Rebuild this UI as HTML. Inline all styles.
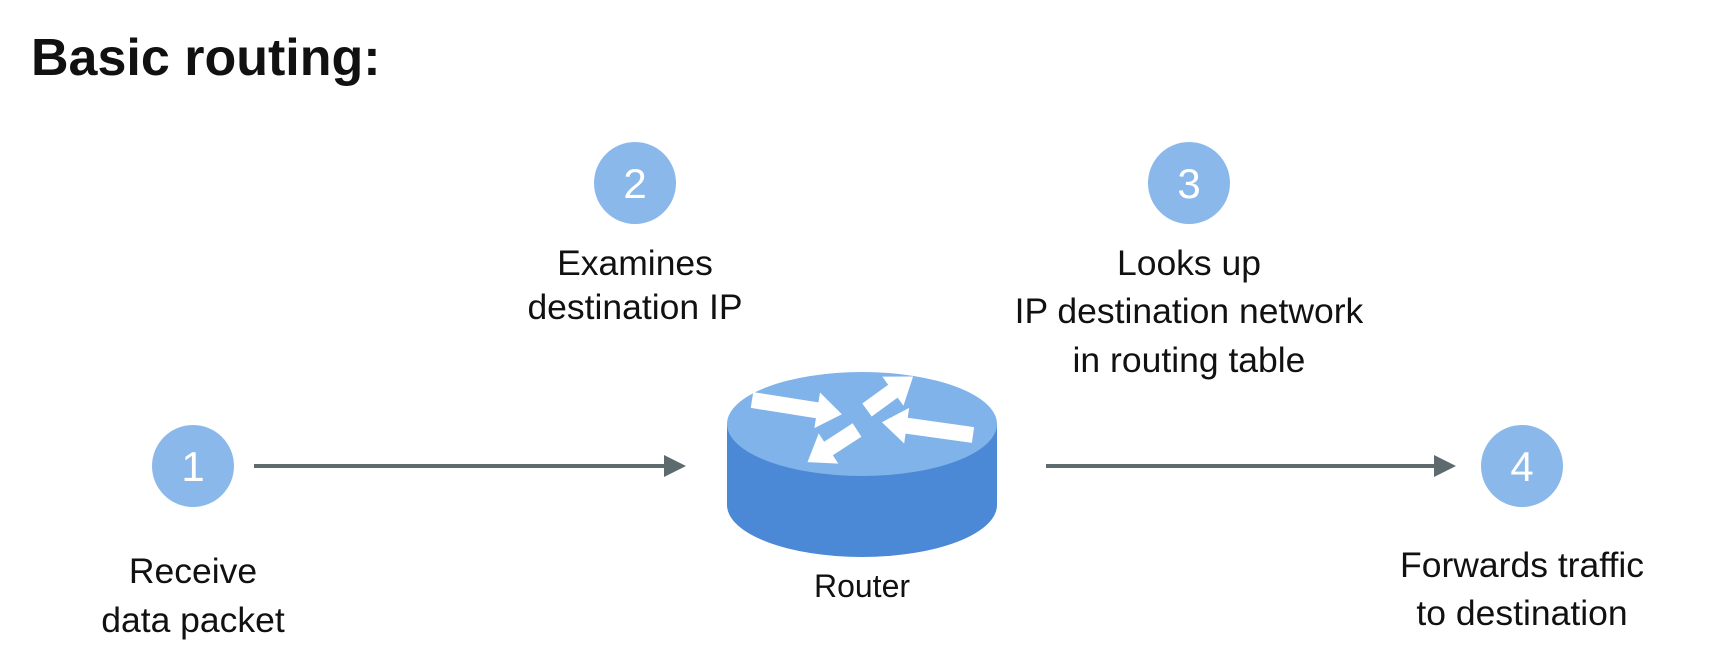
<!DOCTYPE html>
<html><head><style>
html,body{margin:0;padding:0;background:#fff;}
svg{display:block;}
text{font-family:"Liberation Sans",sans-serif;}
</style></head><body>
<svg width="1730" height="672" viewBox="0 0 1730 672" xmlns="http://www.w3.org/2000/svg">
<text x="31" y="75" font-size="52" font-weight="bold" fill="#111">Basic routing:</text>

<g fill="#8ab8ea">
<circle cx="193" cy="466" r="41"/>
<circle cx="635" cy="183" r="41"/>
<circle cx="1189" cy="183" r="41"/>
<circle cx="1522" cy="466" r="41"/>
</g>
<g fill="#fff" font-size="42" text-anchor="middle">
<text x="193" y="481">1</text>
<text x="635" y="198">2</text>
<text x="1189" y="198">3</text>
<text x="1522" y="481">4</text>
</g>

<g stroke="#5d6b6e" stroke-width="4">
<line x1="254" y1="466" x2="666" y2="466"/>
<line x1="1046" y1="466" x2="1436" y2="466"/>
</g>
<g fill="#5d6b6e">
<polygon points="686,466 664,455 664,477"/>
<polygon points="1456,466 1434,455 1434,477"/>
</g>

<!-- router -->
<path d="M727 424 L727 505 A135 52 0 0 0 997 505 L997 424 Z" fill="#4b89d6"/>
<ellipse cx="862" cy="424" rx="135" ry="52" fill="#7fb3ea"/>
<g fill="#fff">
<polygon transform="translate(752,400) rotate(9)" points="0,-8 66,-8 66,-18 91,0 66,18 66,8 0,8"/>
<polygon transform="translate(867,410) rotate(-36)" points="0,-8 32,-8 32,-18 57,0 32,18 32,8 0,8"/>
<polygon transform="translate(973,435) rotate(188)" points="0,-8 67,-8 67,-18 92,0 67,18 67,8 0,8"/>
<polygon transform="translate(857,430) rotate(147)" points="0,-8 34,-8 34,-18 59,0 34,18 34,8 0,8"/>
</g>

<g font-size="35.5" fill="#111" text-anchor="middle">
<text x="635" y="275">Examines</text>
<text x="635" y="319">destination IP</text>
<text x="1189" y="275">Looks up</text>
<text x="1189" y="323">IP destination network</text>
<text x="1189" y="372">in routing table</text>
<text x="193" y="583">Receive</text>
<text x="193" y="632">data packet</text>
<text x="1522" y="577">Forwards traffic</text>
<text x="1522" y="625">to destination</text>
</g>
<text x="862" y="597" font-size="32" fill="#111" text-anchor="middle">Router</text>
</svg>
</body></html>
